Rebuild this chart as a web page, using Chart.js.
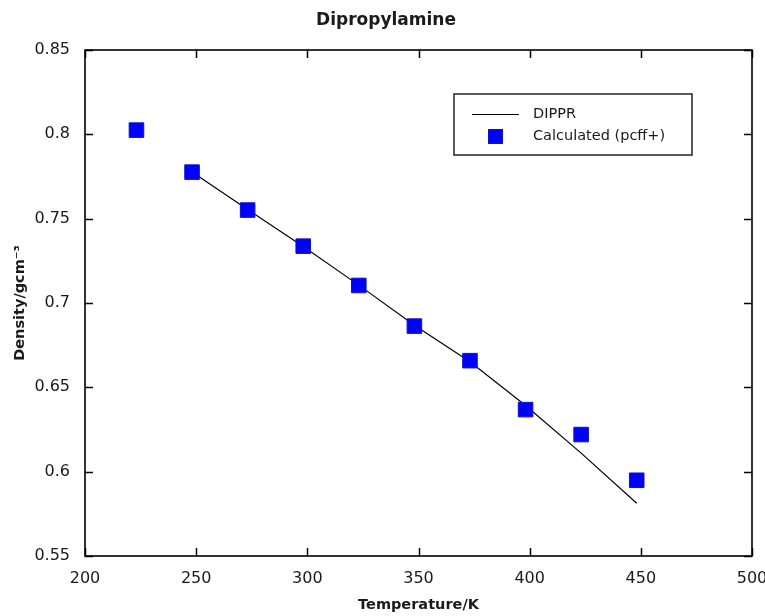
<!DOCTYPE html>
<html><head><meta charset="utf-8">
<script src="https://cdn.jsdelivr.net/npm/chart.js@4.4.1/dist/chart.umd.min.js"></script>
<style>html,body{margin:0;padding:0;background:#fff;}canvas{display:block;}</style>
</head><body>
<canvas id="c" width="765" height="616"></canvas>
<script>
// ---- data ----
const calcTemperatures = [223.15, 248.15, 273.15, 298.15, 323.15, 348.15, 373.15, 398.15, 423.15, 448.15];
const calcDensity      = [0.8025, 0.7776, 0.7551, 0.7337, 0.7104, 0.6863, 0.6658, 0.6368, 0.6220, 0.5949];
const dipprTemperatures = [248.15, 273.15, 298.15, 323.15, 348.15, 373.15, 398.15, 423.15, 448.15];
const dipprDensity      = [0.7776, 0.7555, 0.7335, 0.7106, 0.6868, 0.6652, 0.6392, 0.6110, 0.5813];
const xTickValues = [200, 250, 300, 350, 400, 450, 500];
const xTickLabels = ['200', '250', '300', '350', '400', '450', '500'];
const yTickValues = [0.55, 0.6, 0.65, 0.7, 0.75, 0.8, 0.85];
const yTickLabels = ['0.55', '0.6', '0.65', '0.7', '0.75', '0.8', '0.85'];
const seriesNames = ['DIPPR', 'Calculated (pcff+)'];
const chartTitle = 'Dipropylamine';
const xTitle = 'Temperature/K';
const yTitle = 'Density/gcm\u207B\u00B3';

const FONT = "'DejaVu Sans', Verdana, sans-serif";
const TXT = '#1a1a1a';

function labelFor(values, labels, v) {
  const i = values.findIndex(t => Math.abs(t - v) < 1e-9);
  return i >= 0 ? labels[i] : '';
}

const framePlugin = {
  id: 'frame',
  afterLayout(chart) {
    const t = chart.titleBlock;
    if (t) { t.left += 10; t.right += 10; }
  },
  afterDatasetsDraw(chart) {
    const ctx = chart.ctx, ca = chart.chartArea;
    const xs = chart.scales.x, ys = chart.scales.y;
    const tl = 8;
    ctx.save();
    ctx.strokeStyle = '#000';
    ctx.lineWidth = 1.5;
    ctx.beginPath();
    xTickValues.forEach(v => {
      const px = Math.round(xs.getPixelForValue(v)) + 0.5;
      ctx.moveTo(px, ca.bottom); ctx.lineTo(px, ca.bottom - tl);
      ctx.moveTo(px, ca.top); ctx.lineTo(px, ca.top + tl);
    });
    yTickValues.forEach(v => {
      const py = Math.round(ys.getPixelForValue(v)) + 0.5;
      ctx.moveTo(ca.left, py); ctx.lineTo(ca.left + tl, py);
      ctx.moveTo(ca.right, py); ctx.lineTo(ca.right - tl, py);
    });
    ctx.stroke();
    ctx.lineWidth = 1.6;
    ctx.strokeRect(ca.left, ca.top, ca.right - ca.left, ca.bottom - ca.top);

    // legend box
    const x0 = ca.right - 298, y0 = ca.top + 44, w = 238, h = 61;
    ctx.fillStyle = '#fff';
    ctx.fillRect(x0, y0, w, h);
    ctx.strokeStyle = '#222';
    ctx.lineWidth = 1.5;
    ctx.strokeRect(x0, y0, w, h);
    const dsLine = chart.data.datasets[0], dsPts = chart.data.datasets[1];
    ctx.strokeStyle = dsLine.borderColor;
    ctx.lineWidth = dsLine.borderWidth;
    ctx.beginPath();
    ctx.moveTo(x0 + 18, y0 + 20.5); ctx.lineTo(x0 + 65, y0 + 20.5);
    ctx.stroke();
    ctx.fillStyle = dsPts.backgroundColor;
    ctx.fillRect(x0 + 34, y0 + 35, 15, 15);
    ctx.strokeStyle = dsPts.borderColor;
    ctx.lineWidth = 1;
    ctx.strokeRect(x0 + 34.5, y0 + 35.5, 14, 14);
    ctx.fillStyle = TXT;
    ctx.font = '14.5px ' + FONT;
    ctx.textAlign = 'left';
    ctx.textBaseline = 'middle';
    ctx.fillText(dsLine.label, x0 + 79, y0 + 20);
    ctx.fillText(dsPts.label, x0 + 79, y0 + 42.5);
    ctx.restore();
  }
};

new Chart(document.getElementById('c'), {
  type: 'scatter',
  data: {
    datasets: [
      {
        label: seriesNames[0],
        data: dipprTemperatures.map((t, i) => ({ x: t, y: dipprDensity[i] })),
        showLine: true,
        borderColor: '#000000',
        borderWidth: 1.2,
        pointRadius: 0,
        pointHoverRadius: 0,
        fill: false,
        tension: 0,
        order: 2
      },
      {
        label: seriesNames[1],
        data: calcTemperatures.map((t, i) => ({ x: t, y: calcDensity[i] })),
        showLine: false,
        pointStyle: 'rect',
        pointRadius: 10.3,
        backgroundColor: '#0000ff',
        borderColor: '#1010c8',
        borderWidth: 1,
        order: 1
      }
    ]
  },
  options: {
    responsive: false,
    animation: false,
    devicePixelRatio: 1,
    layout: { padding: { left: 0, right: 13, top: 0, bottom: 0 } },
    plugins: {
      legend: { display: false },
      tooltip: { enabled: false },
      title: {
        display: true,
        text: chartTitle,
        color: TXT,
        font: { family: FONT, size: 17, weight: 'bold', lineHeight: 1.2 },
        padding: { top: 10.5, bottom: 19.1 }
      }
    },
    scales: {
      x: {
        type: 'linear',
        min: 200, max: 500,
        grid: { display: false, drawTicks: false, tickLength: 0 },
        border: { display: false },
        afterBuildTicks: s => { s.ticks = xTickValues.map(v => ({ value: v })); },
        afterFit: s => { s.height = 60; s.paddingLeft = 0; s.paddingRight = 0; },
        ticks: {
          color: TXT,
          font: { family: FONT, size: 16 },
          padding: 13,
          maxRotation: 0,
          autoSkip: false,
          callback: v => labelFor(xTickValues, xTickLabels, v)
        },
        title: {
          display: true,
          text: xTitle,
          color: TXT,
          font: { family: FONT, size: 14.5, weight: 'bold', lineHeight: 1.2 },
          padding: { top: 0, bottom: 2 }
        }
      },
      y: {
        type: 'linear',
        min: 0.55, max: 0.85,
        grid: { display: false, drawTicks: false, tickLength: 0 },
        border: { display: false },
        afterBuildTicks: s => { s.ticks = yTickValues.map(v => ({ value: v })); },
        afterFit: s => { s.width = 85; s.paddingTop = 0; s.paddingBottom = 0; },
        ticks: {
          color: TXT,
          font: { family: FONT, size: 16 },
          padding: 15,
          autoSkip: false,
          callback: v => labelFor(yTickValues, yTickLabels, v)
        },
        title: {
          display: true,
          text: yTitle,
          color: TXT,
          font: { family: FONT, size: 14.5, weight: 'bold', lineHeight: 1.2 },
          padding: { top: 12, bottom: 0 }
        }
      }
    }
  },
  plugins: [framePlugin]
});
</script>
</body></html>
